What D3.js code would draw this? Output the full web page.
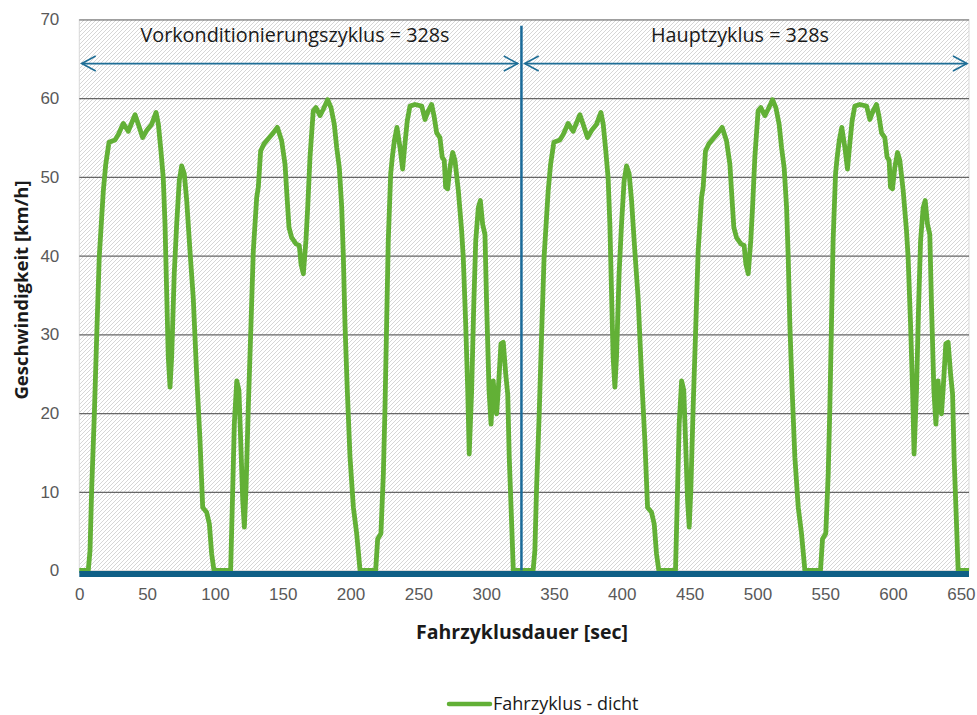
<!DOCTYPE html>
<html>
<head>
<meta charset="utf-8">
<script src="https://cdn.jsdelivr.net/npm/d3@7"></script>
<style>
  html, body { margin: 0; padding: 0; background: #fff; }
  svg { display: block; font-family: "Open Sans", "Noto Sans", sans-serif; }
</style>
</head>
<body>
<div id="chart"></div>
<script>
// Fahrzyklus - dicht: one cycle (328 s). The chart shows it twice.
const zyklusDauer = 328;
const zeit = [0, 6.6, 7.9, 9.1, 11.1, 12.8, 14.7, 17.7, 19.5, 21.9, 26.3, 28.8, 32.4, 36.1, 41.1, 43.5, 46.7, 49.7, 53.4, 56.6,
  58.3, 60.2, 61.9, 63.2, 64.4, 65.6, 66.9, 68.1, 70, 71.8, 73.7, 75.5, 77.4, 79.2, 81.6, 84, 86.5, 89, 91, 93.9,
  95.9, 97.6, 99.3, 111.6, 113.1, 114.3, 116.1, 117.7, 119, 120.5, 121.7, 122.9, 124.6, 126.6, 128.3, 130.8, 132, 133.7, 136.2, 140.1,
  143, 146, 149.2, 151.7, 152.9, 154.6, 156.6, 159.8, 162.2, 163.5, 165.2, 167.1, 168.4, 170.1, 172.5, 174.5, 177.5, 179.9, 183.1, 185.6,
  188, 189.8, 191.7, 193.5, 194.7, 195.9, 197.6, 199.6, 202.1, 204.5, 207, 218.5, 220, 222.4, 224.2, 225.4, 226.6, 227.8, 229.6, 230.8,
  232.3, 234.2, 236.5, 238.4, 240.1, 241.8, 243.8, 247.5, 252.5, 254.9, 257.3, 259.8, 261.7, 263.5, 265.9, 267.6, 269.1, 270.1, 271.6, 273.3,
  275.3, 277, 279.5, 281.9, 283.1, 284.9, 286.4, 287.5, 289.3, 290.8, 292.3, 294.2, 295.7, 297.4, 299.1, 300.4, 302.1, 303.6, 305.2, 306.5,
  307.7, 308.9, 310.9, 312.6, 314.4, 315.9, 317, 318.8, 320, 328];
const geschw = [0, 0, 2.5, 10.2, 19.9, 29.6, 39.8, 48.2, 51.6, 54.4, 54.7, 55.4, 56.8, 55.8, 57.9, 56.7, 55, 55.9, 56.7, 58.2,
  56.7, 53.3, 49.9, 44, 35.5, 27.1, 23.3, 27.1, 37.7, 44, 49.5, 51.4, 50.4, 47, 40.6, 34.7, 25, 16.5, 8, 7.4,
  5.9, 2.1, 0, 0, 10.2, 18.6, 24.1, 22.9, 16.5, 8.9, 5.5, 10.2, 20.7, 31.3, 40.6, 47.4, 48.7, 53.3, 54.2, 55,
  55.6, 56.3, 54.6, 51.6, 48.2, 43.6, 42.3, 41.5, 41.3, 38.9, 37.7, 41.9, 46.1, 52.5, 58.4, 58.8, 57.8, 58.6, 59.8, 58.8,
  56.7, 53.7, 51.2, 46.1, 39.8, 31.3, 22.9, 14.4, 8, 4.7, 0, 0, 4, 4.7, 12.3, 20.7, 31.3, 41.9, 50.4, 52.5,
  54.6, 56.3, 53.7, 51, 54.2, 57.1, 59, 59.2, 59, 57.3, 58.4, 59.2, 57.6, 55.6, 55, 52.5, 52.1, 48.7, 48.5, 51.2,
  53.1, 52.1, 48.2, 43.2, 39.8, 31.3, 22.9, 14.8, 22.9, 33.4, 41.9, 46.1, 47, 44, 42.7, 33.4, 22.9, 18.6, 24.1, 21.2,
  19.9, 22.9, 28.8, 29, 25, 22.4, 14.4, 5.9, 0, 0];

const xTicks = [0, 50, 100, 150, 200, 250, 300, 350, 400, 450, 500, 550, 600, 650];
const yTicks = [0, 10, 20, 30, 40, 50, 60, 70];

const trennung = 326;            // vertical separator
const pfeilHoehe = 64.4;          // arrow level (km/h)
const abschnitte = [
  { label: 'Vorkonditionierungszyklus = 328s', von: 1.8, bis: 323.3, textX: 295 },
  { label: 'Hauptzyklus = 328s', von: 328.4, bis: 654.5, textX: 740 },
];

const width = 977, height = 715;
const m = { left: 79.3, right: 8, top: 19.5, bottom: 144.5 };

const svg = d3.select('#chart').append('svg').attr('width', width).attr('height', height);

const x = d3.scaleLinear().domain([0, 656]).range([m.left, width - m.right]);
const y = d3.scaleLinear().domain([0, 70]).range([height - m.bottom, m.top]);

// hatched plot background
const pat = svg.append('defs').append('pattern').attr('id', 'hatch')
  .attr('patternUnits', 'userSpaceOnUse').attr('width', 4).attr('height', 4);
pat.append('rect').attr('width', 4).attr('height', 4).attr('fill', '#fff');
pat.append('path').attr('d', 'M-1,1 L1,-1 M0,4 L4,0 M3,5 L5,3').attr('stroke', '#d6d6d6').attr('stroke-width', 1);

svg.append('rect').attr('x', x(0)).attr('y', y(70)).attr('width', x(656) - x(0)).attr('height', y(0) - y(70))
  .attr('fill', 'url(#hatch)').attr('stroke', '#d9d9d9').attr('stroke-width', 1);

// grid
const yAxis = d3.axisLeft(y).tickValues(yTicks).tickSize(-(x(656) - x(0))).tickFormat(d3.format('d')).tickPadding(20);
const gy = svg.append('g').attr('transform', `translate(${x(0)},0)`).call(yAxis);
gy.select('.domain').remove();
gy.selectAll('.tick line').attr('stroke', d => d === 0 ? 'none' : '#666').attr('stroke-width', 1.2);
gy.selectAll('.tick text').attr('fill', '#595959').attr('font-size', 17);

const xAxis = d3.axisBottom(x).tickValues(xTicks).tickSize(0).tickPadding(17);
const gx = svg.append('g').attr('transform', `translate(0,${y(0)})`).call(xAxis);
gx.select('.domain').remove();
gx.selectAll('.tick text').attr('fill', '#595959').attr('font-size', 17);

// series (cycle repeated: Vorkonditionierung + Hauptzyklus)
const daten = [];
[0, zyklusDauer].forEach((off, k) => {
  zeit.forEach((t, i) => {
    if (k > 0 && i === 0) return;
    daten.push([t + off, geschw[i]]);
  });
});
const line = d3.line().x(d => x(d[0])).y(d => y(d[1]));
svg.append('path').datum(daten).attr('d', line).attr('fill', 'none')
  .attr('stroke', '#62b036').attr('stroke-width', 4.8).attr('stroke-linejoin', 'round');

// thick x axis line
svg.append('line').attr('x1', x(0)).attr('x2', x(656)).attr('y1', y(0) + 3.5).attr('y2', y(0) + 3.5)
  .attr('stroke', '#0f5f86').attr('stroke-width', 6);

// separator
svg.append('line').attr('x1', x(trennung)).attr('x2', x(trennung)).attr('y1', y(69.2)).attr('y2', y(0))
  .attr('stroke', '#1a6a99').attr('stroke-width', 2.5);

// arrows with open heads
const blau = '#1f6e96';
abschnitte.forEach(a => {
  const yy = y(pfeilHoehe);
  const x1 = x(a.von), x2 = x(a.bis);
  svg.append('line').attr('x1', x1).attr('x2', x2).attr('y1', yy).attr('y2', yy).attr('stroke', blau).attr('stroke-width', 1.6);
  svg.append('path').attr('d', `M${x1 + 14},${yy - 7.5} L${x1},${yy} L${x1 + 14},${yy + 7.5}`)
    .attr('fill', 'none').attr('stroke', blau).attr('stroke-width', 1.6);
  svg.append('path').attr('d', `M${x2 - 14},${yy - 7.5} L${x2},${yy} L${x2 - 14},${yy + 7.5}`)
    .attr('fill', 'none').attr('stroke', blau).attr('stroke-width', 1.6);
  svg.append('text').attr('x', a.textX).attr('y', 42).attr('text-anchor', 'middle')
    .attr('font-size', 19.8).attr('fill', '#1a1a1a').text(a.label);
});

// axis titles
svg.append('text').attr('transform', `translate(28,290) rotate(-90)`).attr('text-anchor', 'middle')
  .attr('font-size', 18.5).attr('font-weight', 'bold').attr('fill', '#1a1a1a').text('Geschwindigkeit [km/h]');
svg.append('text').attr('x', 522).attr('y', 639).attr('text-anchor', 'middle')
  .attr('font-size', 19.5).attr('font-weight', 'bold').attr('fill', '#1a1a1a').text('Fahrzyklusdauer [sec]');

// legend
svg.append('line').attr('x1', 449).attr('x2', 490).attr('y1', 704).attr('y2', 704)
  .attr('stroke', '#62b036').attr('stroke-width', 4.5).attr('stroke-linecap', 'round');
svg.append('text').attr('x', 493).attr('y', 704).attr('dy', '0.35em')
  .attr('font-size', 18).attr('fill', '#1a1a1a').text('Fahrzyklus - dicht');
</script>
</body>
</html>
